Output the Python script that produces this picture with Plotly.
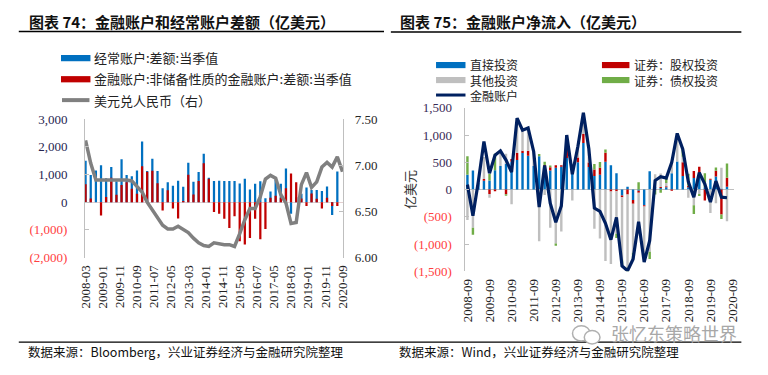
import plotly.graph_objects as go
import pandas as pd

# ---------------- Left chart data (亿美元, quarterly) ----------------
left_dates = pd.date_range("2008-03-01", periods=50, freq="3MS").strftime("%Y-%m-%d").tolist()
rate_dates = pd.date_range("2008-03-01", periods=51, freq="3MS").strftime("%Y-%m-%d").tolist()

current_account = [1490, 980, 1140, 1330, 866, 1270, 750, 1550, 980, 935,
                   1140, 2190, 1120, 1570, 1120, 500, 716, 590, 775, 555,
                   1420, 740, 1085, 1744, 880, 760, 775, 760, 760, 760,
                   670, 843, 460, 660, 750, 140, 380, 808, 660, 1210,
                   -415, 180, 300, 530, 440, 440, 405, 565, -460, 1110]
financial_nonreserve = [650, 130, 0, -485, 185, 880, 265, 620, 720, 485,
                        300, 1300, 1100, 1130, 680, -300, 430, -230, -590, 40,
                        993, 277, 760, 1400, 840, -360, -415, -600, -935, -510,
                        -1410, -1525, -1290, -600, -1340, -970, 160, 230, 160, 500,
                        1030, 716, 130, -140, 310, 127, -230, 160, -140, -140]
usdcny = [7.27, 7.02, 6.84, 6.84, 6.84, 6.84, 6.84, 6.84, 6.84, 6.83,
          6.77, 6.71, 6.60, 6.52, 6.43, 6.35, 6.31, 6.31, 6.34, 6.30,
          6.27, 6.21, 6.16, 6.13, 6.12, 6.16, 6.15, 6.14, 6.14, 6.12,
          6.26, 6.41, 6.53, 6.53, 6.66, 6.85, 6.89, 6.86, 6.68, 6.59,
          6.37, 6.38, 6.79, 6.92, 6.76, 6.82, 6.98, 7.03, 6.98, 7.09, 6.93]

left_yticks = [-2000, -1000, 0, 1000, 2000, 3000]
left_yticktext = ["(2,000)", "(1,000)", "0", "1,000", "2,000", "3,000"]
rate_ticks = [6.0, 6.5, 7.0, 7.5]
rate_ticktext = ["6.00", "6.50", "7.00", "7.50"]

# ---------------- Right chart data (亿美元, quarterly) ----------------
right_dates = pd.date_range("2008-09-01", periods=48, freq="3MS").strftime("%Y-%m-%d").tolist()

direct_inv = [270, 350, 120, 160, 165, 355, 430, 475, 510, 540,
              670, 620, 430, 610, 400, 350, 400, 416, 580, 390,
              500, 855, 415, 250, 270, 510, 445, 300, -110, 50,
              -190, -20, -290, 335, 50, 30, 40, 300, 515, 250,
              40, 210, 250, 40, 180, 240, 20, 50]
equity_inv = [0, 0, 0, 35, -80, -30, 0, -85, 50, 130,
              40, 90, 0, 0, 50, 60, 47, 30, 160, 60,
              90, 165, 80, 120, 130, 165, -35, -30, -30, -90,
              -70, -40, -20, 0, -15, 15, 20, -20, 0, 250,
              30, 130, 170, -200, 20, 105, -460, 165]
other_inv = [-560, -700, 30, 400, -70, 0, 250, 180, -270, 640,
             380, 420, 270, -950, -100, -700, -990, -770, 180, -200,
             200, 390, 250, -720, -900, -1310, -1330, -780, -1150, -1340,
             -900, -665, -900, -1140, 230, 250, 60, 220, 460, 100,
             -150, -290, -80, 0, -430, -250, 380, -580]
debt_inv = [340, -130, 0, 0, 120, 300, 0, -30, 0, 0,
            0, 0, 0, 40, 60, 30, -40, 0, 80, 0,
            0, 0, 0, 100, 105, 60, 0, -80, -110, -100,
            -120, 135, -120, -135, -75, -60, 90, 0, 55, 140,
            220, -160, -40, 260, 0, 60, -80, 265]
fin_account = [90, -480, 150, 880, 300, 630, 710, 540, 320, 1310,
               1090, 1130, 700, -320, 440, -250, -600, -300, 1000, 280,
               790, 1410, 750, -340, -400, -620, -920, -510, -1400, -1490,
               -1280, -590, -1330, -940, 165, 235, 210, 500, 1030, 740,
               140, -140, 310, 100, -230, 155, -140, -150]

right_yticks = [-1500, -1000, -500, 0, 500, 1000, 1500]
right_yticktext = ["(1,500)", "(1,000)", "(500)", "0", "500", "1,000", "1,500"]

# ---------------- styling ----------------
BLUE, RED, GREY, GREEN, NAVY = "#0070C0", "#C00000", "#BFBFBF", "#70AD47", "#002060"
LINEGREY = "#808080"
AXIS = "#BFBFBF"
NEG = "#FF4040"
CJK = "Noto Sans CJK SC"
SERIF = "Liberation Serif"
W = 40 * 86400000  # bar width in ms


def color_ticks(texts, pos_color):
    out = []
    for t in texts:
        c = NEG if t.startswith("(") else pos_color
        out.append(f"<span style='color:{c}'>{t}</span>")
    return out


def px(x):
    return x / 768


def py(y):
    return 1 - y / 375


fig = go.Figure()

# left chart
fig.add_trace(go.Bar(x=left_dates, y=current_account, xaxis="x", yaxis="y",
                     marker=dict(color=BLUE, line=dict(width=0)), width=W,
                     name="经常账户:差额:当季值"))
fig.add_trace(go.Bar(x=left_dates, y=financial_nonreserve, xaxis="x", yaxis="y2",
                     marker=dict(color=RED, line=dict(width=0)), width=W,
                     name="金融账户:非储备性质的金融账户:差额:当季值"))
fig.add_trace(go.Scatter(x=rate_dates, y=usdcny, xaxis="x", yaxis="y3", mode="lines",
                         line=dict(color=LINEGREY, width=3.5), name="美元兑人民币（右）"))

# right chart
for name, vals, col in [("直接投资", direct_inv, BLUE), ("证券：股权投资", equity_inv, RED),
                        ("其他投资", other_inv, GREY), ("证券：债权投资", debt_inv, GREEN)]:
    fig.add_trace(go.Bar(x=right_dates, y=vals, xaxis="x2", yaxis="y4",
                         marker=dict(color=col, line=dict(width=0)), width=W, name=name))
fig.add_trace(go.Scatter(x=right_dates, y=fin_account, xaxis="x2", yaxis="y4", mode="lines",
                         line=dict(color=NAVY, width=3.2), name="金融账户"))

tickfont = dict(family=SERIF, size=13, color="#222222")

fig.update_layout(
    width=768, height=375, margin=dict(l=0, r=0, t=0, b=0),
    paper_bgcolor="white", plot_bgcolor="rgba(0,0,0,0)",
    barmode="relative", showlegend=False, hovermode=False,
    xaxis=dict(domain=[px(79.5), px(342.3)], type="date",
               range=["2008-02-21", "2020-09-11"], tick0="2008-03-01", dtick="M10",
               tickformat="%Y-%m", tickangle=-90, showgrid=False, showline=False,
               zeroline=False, ticks="", tickfont=tickfont, anchor="y",
               ticklabelstandoff=4),
    yaxis=dict(domain=[py(261), py(116.7)], range=[-2000, 3000], tickvals=left_yticks,
               ticktext=color_ticks(left_yticktext, "#262650"), showgrid=False,
               showline=True, linecolor=AXIS, linewidth=1, ticks="inside", ticklen=4,
               tickcolor=AXIS, zeroline=True, zerolinecolor="#E3CFCF", zerolinewidth=1,
               tickfont=dict(family=SERIF, size=13), anchor="x", ticklabelstandoff=14),
    yaxis2=dict(overlaying="y", range=[-2000, 3000], visible=False, anchor="x"),
    yaxis3=dict(overlaying="y", side="right", anchor="x", range=[6.0, 7.5],
                tickvals=rate_ticks, ticktext=rate_ticktext, showgrid=False,
                showline=True, linecolor=AXIS, linewidth=1, ticks="inside", ticklen=4,
                tickcolor=AXIS, zeroline=False,
                tickfont=dict(family=SERIF, size=13, color="#262626"), ticklabelstandoff=8),
    xaxis2=dict(domain=[px(467), px(740.5)], type="date",
                range=["2008-07-31", "2020-09-25"], tick0="2008-09-01", dtick="M12",
                tickformat="%Y-%m", tickangle=-90, showgrid=False, showline=False,
                zeroline=False, ticks="", tickfont=tickfont, anchor="y4",
                ticklabelstandoff=4),
    yaxis4=dict(domain=[py(275.3), py(105)], range=[-1500, 1500], tickvals=right_yticks,
                ticktext=color_ticks(right_yticktext, "#3a2a55"), showgrid=False,
                showline=True, linecolor=AXIS, linewidth=1, ticks="inside", ticklen=4,
                tickcolor=AXIS, zeroline=True, zerolinecolor=AXIS, zerolinewidth=1,
                tickfont=dict(family=SERIF, size=13), anchor="x2", ticklabelstandoff=10),
)

shapes = []
annotations = []


def hline(x0, x1, y, color="black", width=1.5):
    shapes.append(dict(type="line", xref="paper", yref="paper", x0=px(x0), x1=px(x1),
                       y0=py(y), y1=py(y), line=dict(color=color, width=width)))


def rect(x0, x1, y0, y1, color):
    shapes.append(dict(type="rect", xref="paper", yref="paper", x0=px(x0), x1=px(x1),
                       y0=py(y1), y1=py(y0), line=dict(width=0), fillcolor=color))


def text(x, y, s, size=13, color="#222222", xanchor="left", family=CJK, angle=0):
    annotations.append(dict(xref="paper", yref="paper", x=px(x), y=py(y), text=s,
                            showarrow=False, xanchor=xanchor, yanchor="middle",
                            align="left", font=dict(family=family, size=size, color=color),
                            textangle=angle, borderpad=0))


# titles and rules
text(21, 15, "<b>图表 74：金融账户和经常账户差额（亿美元）</b>", size=15, color="#111111")
text(399, 15, "<b>图表 75：金融账户净流入（亿美元）</b>", size=15, color="#111111")
hline(12, 384, 25.5)
hline(391, 748, 26)
hline(12, 384, 349, width=1.2)
hline(384, 748, 349, width=1.2)

# left legend
rect(55, 85, 50, 56.5, BLUE)
rect(55, 85, 72, 78.5, RED)
hline(56, 84, 97, color=LINEGREY, width=4)
text(88, 53, "经常账户:差额:当季值")
text(88, 75, "金融账户:非储备性质的金融账户:差额:当季值")
text(88, 97, "美元兑人民币（右）")

# right legend (rows ~15.6 px apart at 12 px font)
r1, r2, r3 = 60.5, 76.1, 91.7
rect(437, 467, r1 - 3.2, r1 + 3.2, BLUE)
rect(437, 467, r2 - 3.2, r2 + 3.2, GREY)
hline(437, 467, r3, color=NAVY, width=3)
rect(606, 634, r1 - 3.2, r1 + 3.2, RED)
rect(606, 634, r2 - 3.2, r2 + 3.2, GREEN)
text(471, r2, "直接投资<br>其他投资<br>金融账户", size=12)
text(638, (r1 + r2) / 2, "证券：股权投资<br>证券：债权投资", size=12)

# right y title
text(410, 190, "亿美元", size=13, color="#333333", xanchor="center", angle=-90)

# sources
text(20, 359, "数据来源：Bloomberg，兴业证券经济与金融研究院整理", size=12.5, color="#111111")
text(398, 359, "数据来源：Wind，兴业证券经济与金融研究院整理", size=12.5, color="#111111")

# watermark
shapes.append(dict(type="circle", xref="paper", yref="paper", x0=px(576), x1=px(594),
                   y0=py(348), y1=py(332), line=dict(color="#B0B0B0", width=1.5)))
shapes.append(dict(type="circle", xref="paper", yref="paper", x0=px(588), x1=px(604),
                   y0=py(351), y1=py(337), line=dict(color="#B0B0B0", width=1.5),
                   fillcolor="white"))
text(679, 340, "张忆东策略世界", size=18, color="#A8A8A8", xanchor="center")

fig.update_layout(shapes=shapes, annotations=annotations)
fig.write_html("out.html", config={"displayModeBar": False, "staticPlot": True},
               post_script="document.body.style.margin='0';document.body.style.overflow='hidden';")
